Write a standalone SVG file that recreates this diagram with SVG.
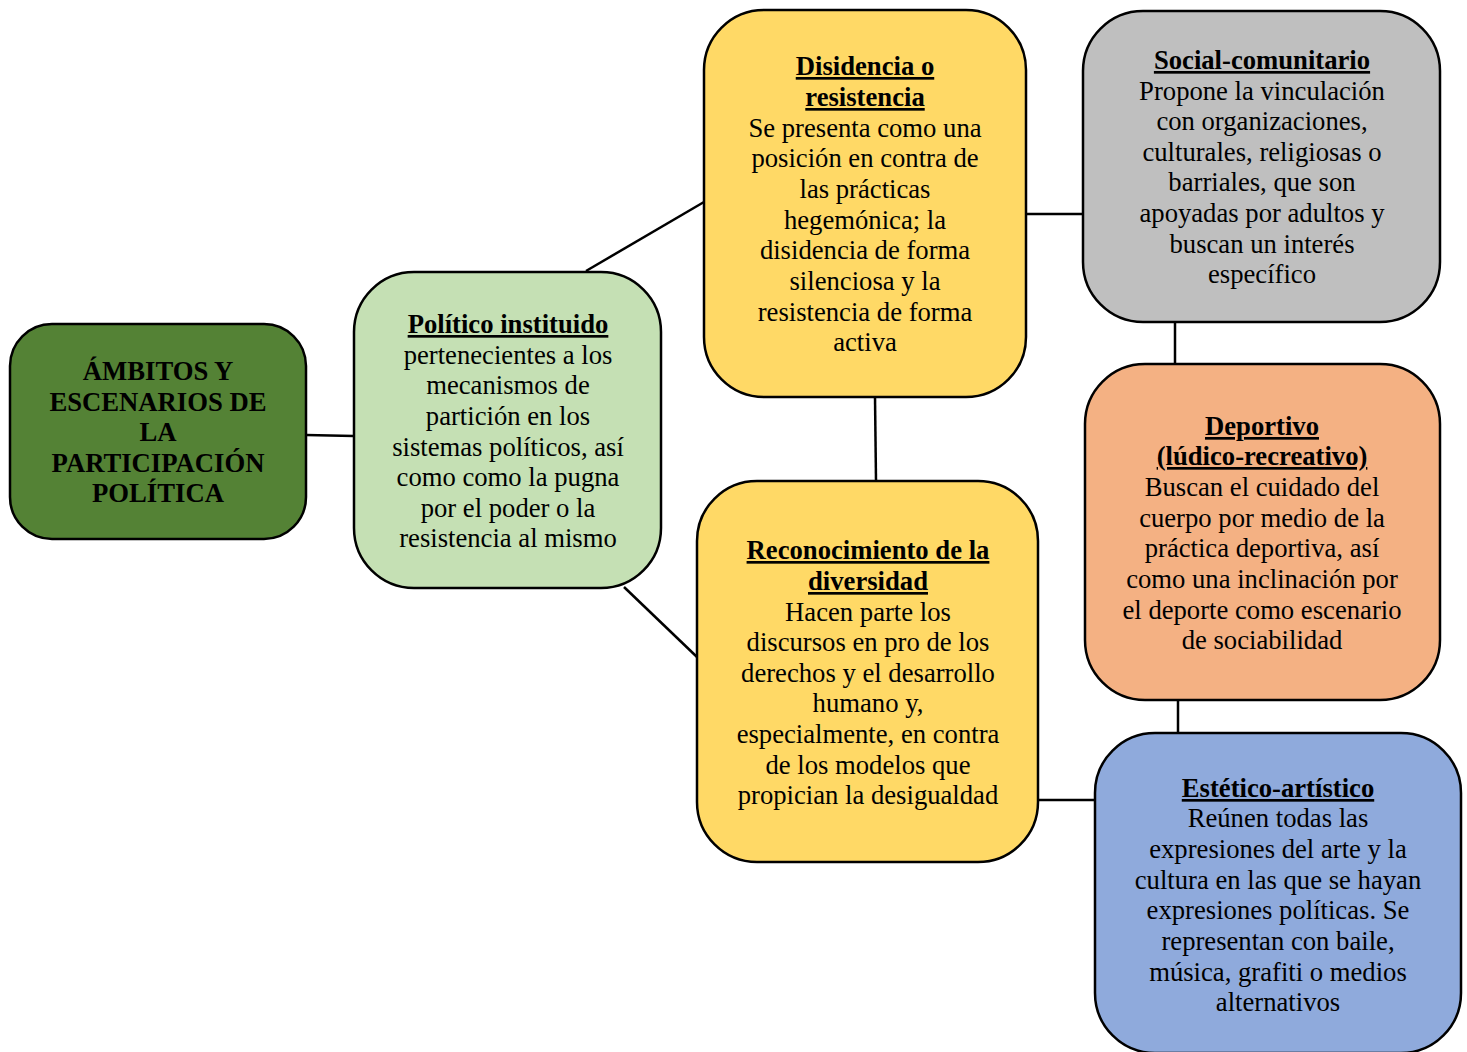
<svg xmlns="http://www.w3.org/2000/svg" width="1467" height="1052" viewBox="0 0 1467 1052">
<style>
.box{stroke:#000;stroke-width:2.5}
.t{font-family:"Liberation Serif","Times New Roman",serif;font-size:26.67px;fill:#000;text-anchor:middle}
.h{font-weight:bold;text-decoration:underline}
.b{font-weight:bold}
.c{stroke:#000;stroke-width:2.5;fill:none}
</style>
<rect width="1467" height="1052" fill="#fff"/>
<g id="connectors">
<line class="c" x1="306" y1="435" x2="354" y2="436"/>
<line class="c" x1="586" y1="271" x2="704" y2="202"/>
<line class="c" x1="624" y1="587" x2="697" y2="657"/>
<line class="c" x1="875" y1="397" x2="876" y2="481"/>
<line class="c" x1="1026" y1="214" x2="1083" y2="214"/>
<line class="c" x1="1175" y1="322" x2="1175" y2="364"/>
<line class="c" x1="1178" y1="700" x2="1178" y2="733"/>
<line class="c" x1="1038" y1="800" x2="1095" y2="800"/>
</g>
<g id="ambitos">
<rect class="box" x="10" y="324" width="296" height="215" rx="42" fill="#548235"/>
<text class="t b" x="158" y="380">ÁMBITOS Y</text>
<text class="t b" x="158" y="411">ESCENARIOS DE</text>
<text class="t b" x="158" y="441">LA</text>
<text class="t b" x="158" y="472">PARTICIPACIÓN</text>
<text class="t b" x="158" y="502">POLÍTICA</text>
</g>
<g id="politico">
<rect class="box" x="354" y="272" width="307" height="316" rx="60" fill="#C5E0B4"/>
<text class="t h" x="508" y="333">Político instituido</text>
<text class="t" x="508" y="364">pertenecientes a los</text>
<text class="t" x="508" y="394">mecanismos de</text>
<text class="t" x="508" y="425">partición en los</text>
<text class="t" x="508" y="456">sistemas políticos, así</text>
<text class="t" x="508" y="486">como como la pugna</text>
<text class="t" x="508" y="517">por el poder o la</text>
<text class="t" x="508" y="547">resistencia al mismo</text>
</g>
<g id="disidencia">
<rect class="box" x="704" y="10" width="322" height="387" rx="60" fill="#FFD966"/>
<text class="t h" x="865" y="75">Disidencia o</text>
<text class="t h" x="865" y="106">resistencia</text>
<text class="t" x="865" y="137">Se presenta como una</text>
<text class="t" x="865" y="167">posición en contra de</text>
<text class="t" x="865" y="198">las prácticas</text>
<text class="t" x="865" y="229">hegemónica; la</text>
<text class="t" x="865" y="259">disidencia de forma</text>
<text class="t" x="865" y="290">silenciosa y la</text>
<text class="t" x="865" y="321">resistencia de forma</text>
<text class="t" x="865" y="351">activa</text>
</g>
<g id="reconocimiento">
<rect class="box" x="697" y="481" width="341" height="381" rx="60" fill="#FFD966"/>
<text class="t h" x="868" y="559">Reconocimiento de la</text>
<text class="t h" x="868" y="590">diversidad</text>
<text class="t" x="868" y="621">Hacen parte los</text>
<text class="t" x="868" y="651">discursos en pro de los</text>
<text class="t" x="868" y="682">derechos y el desarrollo</text>
<text class="t" x="868" y="712">humano y,</text>
<text class="t" x="868" y="743">especialmente, en contra</text>
<text class="t" x="868" y="774">de los modelos que</text>
<text class="t" x="868" y="804">propician la desigualdad</text>
</g>
<g id="social">
<rect class="box" x="1083" y="11" width="357" height="311" rx="60" fill="#BFBFBF"/>
<text class="t h" x="1262" y="69">Social-comunitario</text>
<text class="t" x="1262" y="100">Propone la vinculación</text>
<text class="t" x="1262" y="130">con organizaciones,</text>
<text class="t" x="1262" y="161">culturales, religiosas o</text>
<text class="t" x="1262" y="191">barriales, que son</text>
<text class="t" x="1262" y="222">apoyadas por adultos y</text>
<text class="t" x="1262" y="253">buscan un interés</text>
<text class="t" x="1262" y="283">específico</text>
</g>
<g id="deportivo">
<rect class="box" x="1085" y="364" width="355" height="336" rx="60" fill="#F4B183"/>
<text class="t h" x="1262" y="435">Deportivo</text>
<text class="t h" x="1262" y="465">(lúdico-recreativo)</text>
<text class="t" x="1262" y="496">Buscan el cuidado del</text>
<text class="t" x="1262" y="527">cuerpo por medio de la</text>
<text class="t" x="1262" y="557">práctica deportiva, así</text>
<text class="t" x="1262" y="588">como una inclinación por</text>
<text class="t" x="1262" y="619">el deporte como escenario</text>
<text class="t" x="1262" y="649">de sociabilidad</text>
</g>
<g id="estetico">
<rect class="box" x="1095" y="733" width="366" height="320" rx="60" fill="#8FAADC"/>
<text class="t h" x="1278" y="797">Estético-artístico</text>
<text class="t" x="1278" y="827">Reúnen todas las</text>
<text class="t" x="1278" y="858">expresiones del arte y la</text>
<text class="t" x="1278" y="889">cultura en las que se hayan</text>
<text class="t" x="1278" y="919">expresiones políticas. Se</text>
<text class="t" x="1278" y="950">representan con baile,</text>
<text class="t" x="1278" y="981">música, grafiti o medios</text>
<text class="t" x="1278" y="1011">alternativos</text>
</g>
</svg>
